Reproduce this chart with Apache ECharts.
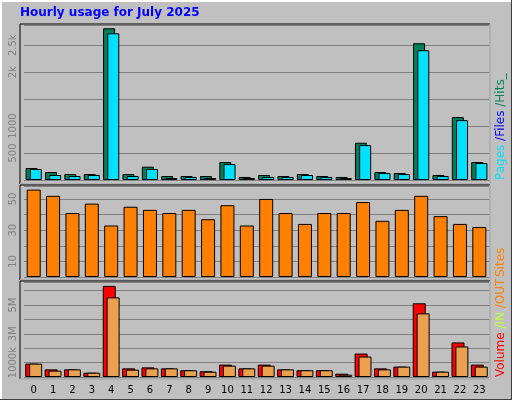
<!DOCTYPE html>
<html><head><meta charset="utf-8">
<script src="https://cdn.jsdelivr.net/npm/echarts@6/dist/echarts.min.js"></script>
<style>html,body{margin:0;padding:0;background:#c0c0c0}#c{width:512px;height:400px}</style>
</head><body><div id="c"></div>
<script>
const hours = ['0','1','2','3','4','5','6','7','8','9','10','11','12','13','14','15','16','17','18','19','20','21','22','23'];
const hits  = [222,148,111,111,2815,111,247,74,74,74,333,56,93,74,111,74,56,691,148,130,2537,93,1167,333];
const files = [204,93,74,93,2722,74,204,37,56,37,296,37,56,56,93,56,37,648,130,111,2407,74,1111,315];
const pages = [18,15,14,14,20,14,18,10,10,10,16,10,12,10,14,10,10,18,14,14,20,12,18,16];
const sites = [56,52,41,47,33,45,43,41,43,37,46,33,50,41,34,41,41,48,36,43,52,39,34,32];
const volume = [0.93,0.53,0.53,0.30,6.33,0.60,0.67,0.60,0.47,0.40,0.86,0.60,0.86,0.53,0.47,0.47,0.23,1.63,0.60,0.72,5.12,0.37,2.40,0.86];
const volIn  = [0.03,0.02,0.02,0.02,0.86,0.02,0.02,0.02,0.02,0.02,0.03,0.02,0.03,0.02,0.02,0.02,0.02,0.23,0.02,0.03,0.81,0.02,0.30,0.05];
const volOut = [0.93,0.44,0.53,0.30,5.53,0.51,0.60,0.60,0.47,0.37,0.79,0.60,0.79,0.53,0.47,0.47,0.16,1.42,0.53,0.72,4.42,0.37,2.12,0.72];

const chart = echarts.init(document.getElementById('c'));
const L = 24, R = 512-489;
const grids = [
  {left:L, right:R, top:25, height:155},
  {left:L, right:R, top:186, height:91},
  {left:L, right:R, top:282, height:95},
  {left:L-3, right:R+3, top:25, height:155},
  {left:L-2, right:R+2, top:282, height:95}
].map(g=>Object.assign({show:false},g));
const lab = {color:'#808080', rotate:90, fontFamily:'DejaVu Sans', fontSize:10, margin:6};
function xa(i, show){return {type:'category', gridIndex:i, data:hours, show:true,
  axisLine:{show:false}, axisTick:{show:false}, axisLabel:{show:show, color:'#000', fontFamily:'DejaVu Sans', fontSize:10, margin:8}};}
function ya(i, max, interval, fmt, show){return {type:'value', gridIndex:i, min:0, max:max, interval:interval, show:show!==false,
  axisLine:{show:false}, axisTick:{show:false}, splitLine:{show:show!==false, lineStyle:{color:'#808080'}},
  axisLabel:Object.assign({formatter:fmt, showMaxLabel:false}, lab)};}
const bs = {borderColor:'#000', borderWidth:1};
chart.setOption({
  animation:false,
  backgroundColor:'#c0c0c0',
  grid:grids,
  xAxis:[xa(0,false),xa(1,false),xa(2,true),xa(3,false),xa(4,false)].map((a,i)=>{if(i>2)a.show=false;return a;}),
  yAxis:[
    ya(0,2876,500,v=>({0:'',500:'500',1000:'1000',1500:'',2000:'2k',2500:'2.5k'})[v]),
    ya(1,58.3,10,v=>({10:'10',30:'30',50:'50'})[v]||''),
    ya(2,6.6,1,v=>({1:'1000k',3:'3M',5:'5M'})[v]||''),
    ya(3,2876,500,null,false),
    ya(4,6.6,1,null,false)
  ],
  series:[
    {type:'bar', xAxisIndex:0, yAxisIndex:0, data:hits, barWidth:12, barGap:'-65%', itemStyle:Object.assign({color:'#00805a'},bs)},
    {type:'bar', xAxisIndex:0, yAxisIndex:0, data:files, barWidth:12, barGap:'-65%', itemStyle:Object.assign({color:'#00e0ff'},bs)},
    {type:'bar', xAxisIndex:3, yAxisIndex:3, data:pages, barWidth:2, itemStyle:{color:'#0000c0'}},
    {type:'bar', xAxisIndex:1, yAxisIndex:1, data:sites, barWidth:14, itemStyle:Object.assign({color:'#ff8000'},bs)},
    {type:'bar', xAxisIndex:2, yAxisIndex:2, data:volume, barWidth:13, barGap:'-70%', itemStyle:Object.assign({color:'#ff0000'},bs)},
    {type:'bar', xAxisIndex:2, yAxisIndex:2, data:volOut, barWidth:13, barGap:'-70%', itemStyle:Object.assign({color:'#eba050'},bs)},
    {type:'bar', xAxisIndex:4, yAxisIndex:4, z:1, data:volIn, barWidth:2, itemStyle:{color:'#c0ff40'}}
  ],
  graphic:[
    {type:'rect', shape:{x:0,y:0,width:512,height:400}, style:{fill:'none', stroke:'#404040', lineWidth:2}, z:-5, silent:true},
    {type:'polyline', shape:{points:[[1,399],[1,1],[511,1]]}, style:{stroke:'#fff', lineWidth:2, fill:'none'}, silent:true},
    {type:'rect', shape:{x:20,y:24,width:470,height:160}, style:{fill:'none', stroke:'#000', lineWidth:1}, silent:true},
    {type:'polyline', shape:{points:[[20,184],[490,184],[490,24]]}, style:{stroke:'#fff', lineWidth:1, fill:'none'}, silent:true},
    {type:'rect', shape:{x:20,y:185,width:470,height:95}, style:{fill:'none', stroke:'#000', lineWidth:1}, silent:true},
    {type:'polyline', shape:{points:[[20,280],[490,280],[490,185]]}, style:{stroke:'#fff', lineWidth:1, fill:'none'}, silent:true},
    {type:'rect', shape:{x:20,y:281,width:470,height:98}, style:{fill:'none', stroke:'#000', lineWidth:1}, silent:true},
    {type:'polyline', shape:{points:[[20,379],[490,379],[490,281]]}, style:{stroke:'#fff', lineWidth:1, fill:'none'}, silent:true},
    {type:'text', left:20, top:7, style:{text:'Hourly usage for July 2025', fill:'#0000ff', font:'bold 12px "DejaVu Sans"'}},
    {type:'text', x:495, y:180, rotation:Math.PI/2, style:{text:'{a|Pages }{b|/Files }{c|/Hits_}', font:'12px "DejaVu Sans"',
      rich:{a:{fill:'#00e0ff',font:'12px "DejaVu Sans"'},b:{fill:'#0000ff',font:'12px "DejaVu Sans"'},c:{fill:'#00805a',font:'12px "DejaVu Sans"'}}}},
    {type:'text', x:495, y:277, rotation:Math.PI/2, style:{text:'Sites', fill:'#ff8000', font:'12px "DejaVu Sans"'}},
    {type:'text', x:495, y:377, rotation:Math.PI/2, style:{text:'{a|Volume }{b|/IN }{c|/OUT}', font:'12px "DejaVu Sans"',
      rich:{a:{fill:'#ff0000',font:'12px "DejaVu Sans"'},b:{fill:'#c0ff40',font:'12px "DejaVu Sans"'},c:{fill:'#ff8000',font:'12px "DejaVu Sans"'}}}}
  ]
});
</script></body></html>
